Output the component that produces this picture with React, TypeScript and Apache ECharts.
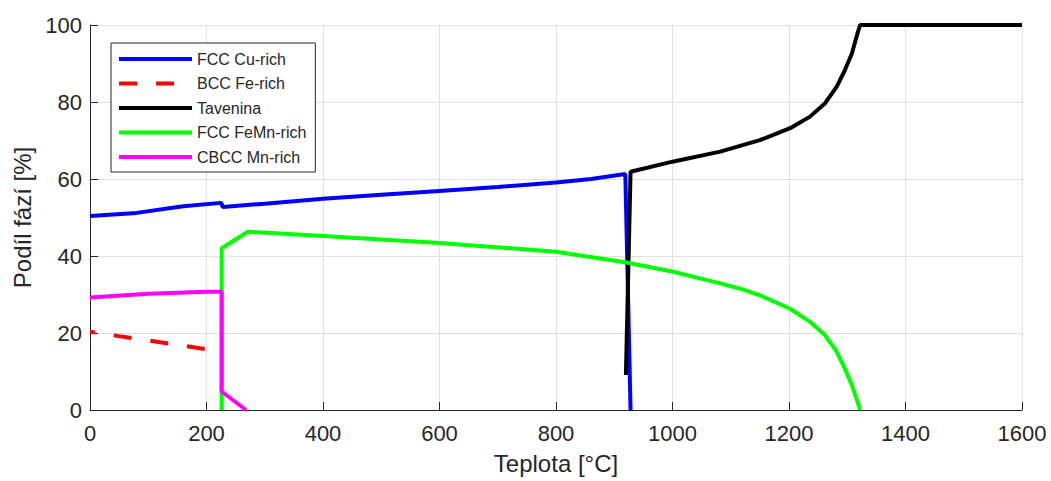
import React, { useEffect, useRef } from "react";
import * as echarts from "echarts";

const seriesNames = ["FCC Cu-rich", "BCC Fe-rich", "Tavenina", "FCC FeMn-rich", "CBCC Mn-rich"];
const seriesColors = ["#0000ff", "#ff0000", "#000000", "#00ff00", "#ff00ff"];

const fccCuT = [0, 80, 160, 225, 228, 300, 400, 500, 600, 700, 800, 860, 919, 928];
const fccCuV = [50.4, 51.2, 52.9, 53.8, 52.7, 53.6, 54.9, 55.9, 56.9, 57.9, 59.1, 60.0, 61.3, 0];

const bccFeT = [0, 200];
const bccFeV = [20.3, 15.8];

const tavT = [920, 928, 1000, 1082, 1116, 1150, 1202, 1236, 1262, 1282, 1296, 1308, 1316, 1322, 1600];
const tavV = [9.1, 61.9, 64.5, 67.1, 68.6, 70.1, 73.2, 76.2, 79.7, 84.0, 88.3, 92.6, 97.0, 100, 100];

const fccFeMnT = [226, 226, 271, 400, 600, 800, 921, 1001, 1082, 1116, 1150, 1202, 1236, 1262, 1282, 1296, 1308, 1316, 1322];
const fccFeMnV = [0, 42, 46.3, 45.2, 43.4, 41.1, 38.3, 35.9, 32.9, 31.5, 29.8, 26.3, 22.9, 19.4, 15.1, 10.7, 6.4, 2.9, 0];

const cbccMnT = [0, 100, 200, 226, 226, 268];
const cbccMnV = [29.2, 30.2, 30.7, 30.7, 4.8, 0];

const xTicks = [0, 200, 400, 600, 800, 1000, 1200, 1400, 1600];
const yTicks = [0, 20, 40, 60, 80, 100];

const zip = (t: number[], v: number[]) => t.map((x, i) => [x, v[i]]);

const FONT = "'Liberation Sans', Arial, Helvetica, sans-serif";
const TXT = "#262626";

export default function App() {
  const ref = useRef<HTMLDivElement>(null);
  useEffect(() => {
    if (!ref.current) return;
    const chart = echarts.init(ref.current, undefined, { renderer: "svg" });
    const datasets = [zip(fccCuT, fccCuV), zip(bccFeT, bccFeV), zip(tavT, tavV), zip(fccFeMnT, fccFeMnV), zip(cbccMnT, cbccMnV)];
    chart.setOption({
      animation: false,
      backgroundColor: "#ffffff",
      textStyle: { fontFamily: FONT },
      grid: { left: 90, right: 29, top: 25, bottom: 71, containLabel: false },
      legend: {
        orient: "vertical",
        left: 111,
        top: 43,
        data: seriesNames,
        itemWidth: 73,
        itemHeight: 16,
        itemGap: 8.5,
        padding: [8, 9, 7, 6],
        borderColor: TXT,
        borderWidth: 1,
        backgroundColor: "#ffffff",
        itemStyle: { opacity: 0 },
        lineStyle: { width: 4, dashOffset: 0 },
        textStyle: { fontSize: 16, color: TXT, fontFamily: FONT, lineHeight: 16 },
      },
      xAxis: {
        type: "value",
        min: xTicks[0],
        max: xTicks[xTicks.length - 1],
        interval: 200,
        name: "Teplota [°C]",
        nameLocation: "middle",
        nameGap: 41,
        nameTextStyle: { fontSize: 24, color: TXT, fontFamily: FONT },
        axisLine: { show: true, lineStyle: { color: TXT, width: 1 } },
        axisTick: { show: true, inside: true, length: 8, lineStyle: { color: TXT } },
        axisLabel: { fontSize: 22, color: TXT, margin: 12, fontFamily: FONT, formatter: (v: number) => String(v) },
        splitLine: { show: true, lineStyle: { color: "#dfdfdf", width: 1 } },
      },
      yAxis: {
        type: "value",
        min: yTicks[0],
        max: yTicks[yTicks.length - 1],
        interval: 20,
        name: "Podíl fází [%]",
        nameLocation: "middle",
        nameGap: 55,
        nameTextStyle: { fontSize: 24, color: TXT, fontFamily: FONT },
        axisLine: { show: true, lineStyle: { color: TXT, width: 1 } },
        axisTick: { show: true, inside: true, length: 8, lineStyle: { color: TXT } },
        axisLabel: { fontSize: 22, color: TXT, margin: 8, fontFamily: FONT, formatter: (v: number) => String(v) },
        splitLine: { show: true, lineStyle: { color: "#dfdfdf", width: 1 } },
      },
      series: seriesNames.map((name, i) => ({
        name,
        type: "line",
        data: datasets[i],
        symbol: "none",
        showSymbol: false,
        smooth: false,
        clip: true,
        color: seriesColors[i],
        lineStyle: {
          color: seriesColors[i],
          width: 4,
          type: i === 1 ? [18, 19] : "solid",
          dashOffset: i === 1 ? 13 : 0,
        },
        emphasis: { disabled: true },
      })),
    });
    return () => chart.dispose();
  }, []);
  return <div ref={ref} style={{ position: "fixed", left: 0, top: 0, width: 1051, height: 481 }} />;
}
